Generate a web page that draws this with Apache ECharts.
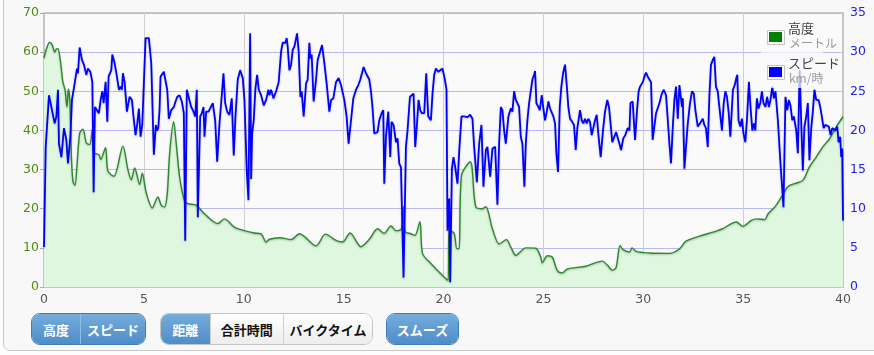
<!DOCTYPE html>
<html><head><meta charset="utf-8">
<script src="https://cdn.jsdelivr.net/npm/echarts@6/dist/echarts.min.js"></script>
<style>
html,body{margin:0;padding:0;background:#fdfdfd;width:874px;height:355px;overflow:hidden;}
#panel{position:absolute;left:3px;top:-12px;width:900px;height:363px;border:1px solid #c9c9c9;border-radius:7px;background:#f8f8f8;box-sizing:border-box;}
#chart{position:absolute;left:0;top:0;width:874px;height:355px;}
.grp{position:absolute;top:313px;height:32px;display:flex;border-radius:9px;overflow:hidden;box-sizing:border-box;border:1px solid #3f7db9;}
.grp.mix{border-color:#c4c4c4;}
.b{display:flex;align-items:center;justify-content:center;height:100%;box-sizing:border-box;font-family:"Noto Sans CJK JP",sans-serif;font-weight:bold;font-size:13px;}
.on{background:linear-gradient(#74acdc,#4f8dc8);color:#fff;}
.off{background:linear-gradient(#ffffff,#ededed);color:#111;border-left:1px solid #d0d0d0;}
.sep{border-left:1px solid #8fbde3;}
</style></head>
<body>
<div id="panel"></div>
<div id="chart"></div>
<div class="grp" style="left:31px;width:115px;"><div class="b on" style="width:49px">高度</div><div class="b on sep" style="width:66px">スピード</div></div>
<div class="grp mix" style="left:160px;width:213px;"><div class="b on" style="width:49px;">距離</div><div class="b off" style="width:74px">合計時間</div><div class="b off" style="width:90px">バイクタイム</div></div>
<div class="grp" style="left:386px;width:73px;"><div class="b on" style="width:73px">スムーズ</div></div>
<script>
const distAlt = [0.0,0.12,0.28,0.4,0.54,0.62,0.7,0.8,0.87,0.95,1.05,1.15,1.22,1.3,1.37,1.45,1.55,1.65,1.79,1.95,2.12,2.29,2.42,2.5,2.75,2.84,3.08,3.2,3.5,3.95,4.2,4.37,4.54,4.79,4.92,5.12,5.42,5.7,5.87,6.03,6.17,6.29,6.49,6.62,6.79,7.03,7.2,7.62,8.03,8.7,9.03,9.53,10.03,10.53,10.87,11.12,11.29,11.79,12.37,12.79,13.62,14.09,14.62,14.95,15.32,15.87,16.29,16.7,17.03,17.37,17.62,17.9,18.0,18.07,18.37,18.57,18.82,18.95,19.37,20.12,20.23,20.28,20.53,20.67,20.78,20.9,21.34,21.62,21.95,22.12,22.45,22.79,23.15,23.37,23.62,24.12,24.62,24.87,24.95,25.2,25.45,25.7,25.95,26.2,27.12,27.95,28.2,28.45,28.64,28.84,28.98,29.31,29.44,29.64,30.31,31.31,31.81,32.14,32.81,33.48,33.98,34.41,34.66,34.99,35.41,35.66,36.08,36.25,36.58,36.92,37.25,37.58,38.0,38.32,38.66,38.99,39.33,39.66,40.0];
const altitude = [58.5,60.8,62.5,62,60,60.8,60.9,58.5,55.6,52.2,50.5,46,50.6,47,33.4,27,26,31,39.4,40.3,36.8,36.4,40.3,34.3,33.8,32.6,35.6,29.6,28.3,36,30,27.4,30.4,26.2,29.1,24,20.2,23,20.9,20.4,23.8,34.1,42.2,36.7,28.1,22.1,21.3,20.9,18.7,16.2,17.4,15.3,14.4,13.8,13.6,11.5,12.2,12.6,12.1,13.6,10.5,13.5,11.9,11.5,13.8,10.3,12.2,14.9,13.7,15.6,14.4,14.9,20.5,14.2,13.6,13.2,16.7,8.6,6,2.1,1.7,14.5,13.7,9.8,9.8,28.5,32,20.4,20,20.5,14.9,11,12.1,10.2,8.1,10,9.9,7.6,6.2,8,7.6,4.2,3.6,4.6,5.3,6.6,5.6,4.3,5,10.6,9.6,8.9,10,9.1,8.7,8.6,9.7,11.7,13,14,14.9,16.2,16.6,15.5,17,17.4,17.2,18.7,20.4,23,25.7,26.4,27.3,30.7,33.2,35.8,37.9,40.9,43.5];
const distSpd = [0.0,0.085,0.25,0.335,0.535,0.62,0.7,0.75,0.87,1.0,1.12,1.2,1.32,1.4,1.535,1.65,1.7,1.785,1.9,2.0,2.12,2.2,2.32,2.42,2.485,2.55,2.65,2.75,2.835,2.92,2.985,3.085,3.17,3.235,3.37,3.42,3.535,3.65,3.75,3.835,3.9,3.95,4.035,4.15,4.285,4.4,4.5,4.585,4.67,4.75,4.835,4.92,5.0,5.085,5.25,5.37,5.5,5.6,5.66,5.72,5.785,5.835,5.92,6.0,6.085,6.17,6.25,6.37,6.5,6.585,6.67,6.785,6.9,7.0,7.07,7.15,7.25,7.37,7.485,7.57,7.65,7.7,7.82,7.9,7.985,8.035,8.12,8.235,8.335,8.45,8.57,8.67,8.785,8.87,8.985,9.07,9.17,9.285,9.4,9.5,9.585,9.7,9.82,9.95,10.035,10.15,10.235,10.32,10.37,10.42,10.5,10.585,10.67,10.75,10.87,11.0,11.12,11.235,11.285,11.37,11.485,11.62,11.75,11.87,11.95,12.085,12.15,12.2,12.285,12.37,12.45,12.535,12.67,12.75,12.835,12.9,13.0,13.12,13.2,13.285,13.335,13.4,13.5,13.62,13.7,13.785,13.92,14.035,14.15,14.285,14.37,14.485,14.62,14.75,14.87,15.035,15.15,15.25,15.37,15.485,15.62,15.735,15.835,15.92,16.0,16.12,16.2,16.285,16.37,16.45,16.535,16.62,16.7,16.785,16.9,16.985,17.035,17.12,17.235,17.335,17.4,17.5,17.62,17.7,17.785,17.87,18.0,18.12,18.2,18.32,18.4,18.5,18.585,18.67,18.75,18.835,18.92,19.035,19.135,19.235,19.37,19.45,19.535,19.62,19.735,19.835,19.95,20.07,20.15,20.2,20.285,20.335,20.42,20.5,20.585,20.7,20.8,20.9,21.035,21.2,21.335,21.45,21.535,21.67,21.785,21.9,22.0,22.12,22.2,22.335,22.45,22.585,22.7,22.785,22.87,22.95,23.035,23.12,23.25,23.37,23.45,23.535,23.62,23.7,23.785,23.87,23.95,24.05,24.12,24.2,24.285,24.37,24.45,24.535,24.585,24.65,24.75,24.82,24.92,25.0,25.085,25.17,25.25,25.335,25.42,25.5,25.585,25.65,25.735,25.82,25.9,25.985,26.085,26.17,26.25,26.335,26.45,26.535,26.62,26.7,26.785,26.835,26.92,27.0,27.085,27.17,27.25,27.335,27.42,27.5,27.585,27.67,27.75,27.87,27.985,28.085,28.2,28.285,28.37,28.45,28.64,28.72,28.81,28.89,29.0,29.1,29.22,29.31,29.36,29.47,29.59,29.69,29.77,29.84,29.98,30.06,30.14,30.22,30.31,30.39,30.47,30.56,30.64,30.72,30.81,30.93,31.03,31.14,31.23,31.31,31.39,31.48,31.56,31.64,31.73,31.81,31.86,31.94,31.98,32.06,32.14,32.23,32.34,32.44,32.53,32.61,32.73,32.84,32.98,33.06,33.14,33.23,33.31,33.39,33.48,33.56,33.64,33.73,33.81,33.94,34.03,34.11,34.19,34.28,34.36,34.49,34.58,34.66,34.71,34.77,34.86,34.94,35.02,35.11,35.19,35.29,35.37,35.46,35.54,35.61,35.69,35.77,35.86,35.94,36.02,36.12,36.2,36.29,36.37,36.46,36.54,36.62,36.74,36.87,37.02,37.12,37.21,37.29,37.37,37.46,37.54,37.66,37.74,37.83,37.91,37.99,38.07,38.16,38.24,38.32,38.41,38.49,38.57,38.66,38.78,38.86,38.94,39.03,39.11,39.21,39.29,39.38,39.46,39.54,39.63,39.71,39.78,39.86,39.91,39.96,40.0];
const speed = [5.1,17.9,24.5,24.7,20.9,21.8,25.2,18.3,16.6,20.3,18.8,15.8,19.2,23.9,26,27.9,27.3,30.6,29,28.4,27.1,27.9,27.5,26.2,12.1,23,23,22.2,23.9,25,23.5,26.2,21.1,26.9,27.7,29.7,28.6,26.9,25.2,25.6,25.2,27.3,26.2,22.4,24.3,23.9,21.3,19.4,20.9,22.8,19.2,20.7,20.7,31.8,31.8,28.6,16.9,20.7,20,20.3,22.6,26.9,26.7,27.5,27.3,25.2,21.5,22.6,23,23.7,24.3,24.5,23.7,22.2,5.9,25.2,25.4,23,22.4,21.8,25.2,8.9,21.8,22.2,23,19.2,22.4,22.4,22.6,23.5,21.3,16,20.9,23.5,27.3,23.5,22.4,22,24.1,16.8,21.8,26.5,27.7,26.7,23.9,14.9,11.1,32.4,13.8,19.6,21.3,25.4,27.1,25.2,24.5,23.2,23.9,25.2,24.5,25.2,24.1,25,26.2,30.1,31.2,31.2,31.8,30.7,27.7,28.4,30.3,30.7,32.4,30.1,24.3,25,21.8,26,26.5,31.2,29.2,29.7,23.7,26.5,29,29.2,30.9,28.6,26,22.4,23.9,24.1,26.2,26.7,25.8,23.9,21.8,18.3,21.3,24.1,25.2,25.8,26.5,26.7,28.1,27.3,27.5,26.5,25,22.8,19.6,19.4,19.8,21.3,22.2,22.6,13.2,19.2,22.4,16.6,21.1,20.7,18.5,19,15.8,15.3,1.2,17.9,20,24.3,24.5,24.7,17.9,20.7,23.9,22.6,22.2,22.2,27.3,21.8,21.3,24.7,27.1,27.9,27.5,27.7,27.9,26.5,25.2,7.2,11.3,0.6,15.1,16.6,15.3,13.2,17.9,21.8,21.8,21.7,22,21.5,17.9,13.4,18.3,20.7,12.8,17.5,17.9,14.1,17.7,17.9,10.5,18.3,23,22.6,20,18.3,21.8,22.8,22.4,25,23.9,23.5,23,19.2,18.3,12.8,18.3,21.3,23.5,23.7,26.5,27.1,27.6,23.5,23,22.6,24.5,22.8,21.3,22.4,23.7,22.8,22.6,21.8,20.9,17.1,14.7,23,25.6,27.3,28.4,25.8,23,21.5,21.1,20.7,17.5,20.3,20.5,22.6,21.3,20.9,21.5,20.9,21.5,21.1,19.4,20.3,21.3,22,19.6,16.6,20,22.4,23.9,23,20.7,18.5,19.8,19.6,18.3,17.5,19,19.4,20.3,20,23.5,23.7,18.8,22.6,25,25.6,26.2,26.9,27.4,26.9,26.5,26.2,18.8,19,22.2,22.4,23.5,24.7,25.2,24.5,21.3,18.3,15.8,20.5,23.9,25.6,21.5,25.8,25.6,23,24.1,15.1,17.9,20.9,23.5,25,24.7,22.6,20.5,20.9,21.5,20.7,20.3,17.9,24.3,28.4,29,29.4,25.6,25,23,20,23.5,25,24.3,22.2,19.2,25.2,25.8,26.7,27.1,21.3,20.5,21.5,19.6,18.5,21.3,26.2,23,20,20.9,20,24.1,22.8,23.5,25,23.5,23,24.3,23,23.9,25.6,24.1,25,21.3,15.8,10.2,24.3,22.6,23.9,23.2,21.3,21.8,20,17.1,27.7,20.9,14.9,20.5,21.8,23.5,16.2,20.3,22.4,25.2,23.9,23.9,23,21.8,20.3,20.7,20.9,20.5,19.4,20.3,20.5,20,20.5,18.5,19.2,16.6,17.7,8.5];
const legendNames = ['高度','スピード'];
const legendUnits = ['メートル','km/時'];
const legendColors = ['#008000','#0000ff'];

const altData = distAlt.map((d,i)=>[d, altitude[i]]);
const spdData = distSpd.map((d,i)=>[d, speed[i]]);

const chart = echarts.init(document.getElementById('chart'), null, {renderer:'canvas'});
const tickFont = 'DejaVu Sans';
const legendGraphic = [];
legendNames.forEach((n,i)=>{
  const y0 = 22 + i*35;
  legendGraphic.push({type:'rect', left:767, top:y0+8, shape:{width:17,height:14}, style:{fill:'#ffffff', stroke:'#c4c4c4', lineWidth:1}, z:101});
  legendGraphic.push({type:'rect', left:769, top:y0+10, shape:{width:13,height:10}, style:{fill:legendColors[i]}, z:102});
  legendGraphic.push({type:'text', left:788, top:y0, style:{text:n, fill:'#444', font:'13px "Noto Sans CJK JP"'}, z:101});
  legendGraphic.push({type:'text', left:789, top:y0+15, style:{text:legendUnits[i], fill:'#9a9a9a', font:'12px "Noto Sans CJK JP"'}, z:101});
});
chart.setOption({
  animation:false,
  backgroundColor:'transparent',
  grid:{left:44, right:31, top:13, bottom:68, show:true, backgroundColor:'#fafafa', borderColor:'#c6c6c6', borderWidth:2},
  xAxis:{type:'value', min:0, max:40, interval:5,
    axisLine:{show:true, lineStyle:{color:'#c6c6c6', width:2}},
    axisTick:{show:false},
    axisLabel:{color:'#555', fontFamily:tickFont, fontSize:12.5, margin:6},
    splitLine:{show:true, lineStyle:{color:'#cfcfcf', width:1}}},
  yAxis:[
    {type:'value', min:0, max:70, interval:10, position:'left',
     axisLine:{show:true, lineStyle:{color:'#c6c6c6', width:2}},
     axisTick:{show:true, length:4, lineStyle:{color:'#aaa'}},
     axisLabel:{color:'#4f8a10', fontFamily:tickFont, fontSize:12.5, margin:5},
     splitLine:{show:true, lineStyle:{color:'#b8b8f4', width:1}}},
    {type:'value', min:0, max:35, interval:5, position:'right',
     axisLine:{show:true, lineStyle:{color:'#c6c6c6', width:2}},
     axisTick:{show:false},
     axisLabel:{color:'#2020ee', fontFamily:tickFont, fontSize:12.5, margin:7},
     splitLine:{show:false}}
  ],
  series:[
    {name:'高度', type:'line', yAxisIndex:0, data:altData, showSymbol:false, smooth:0.3,
     lineStyle:{color:'#2a8a2a', width:1.4, shadowColor:'rgba(0,0,0,0.25)', shadowBlur:2, shadowOffsetY:1},
     areaStyle:{color:'#dff7df', opacity:1}, z:2},
    {name:'スピード', type:'line', yAxisIndex:1, data:spdData, showSymbol:false,
     lineStyle:{color:'#0000ff', width:1.8, shadowColor:'rgba(0,0,0,0.25)', shadowBlur:2, shadowOffsetY:1}, z:3}
  ],
  graphic:[{type:'rect', left:761, top:20, shape:{width:62,height:68}, style:{fill:'rgba(250,250,250,0.72)'}, z:100}].concat(legendGraphic)
});
</script>
</body></html>
